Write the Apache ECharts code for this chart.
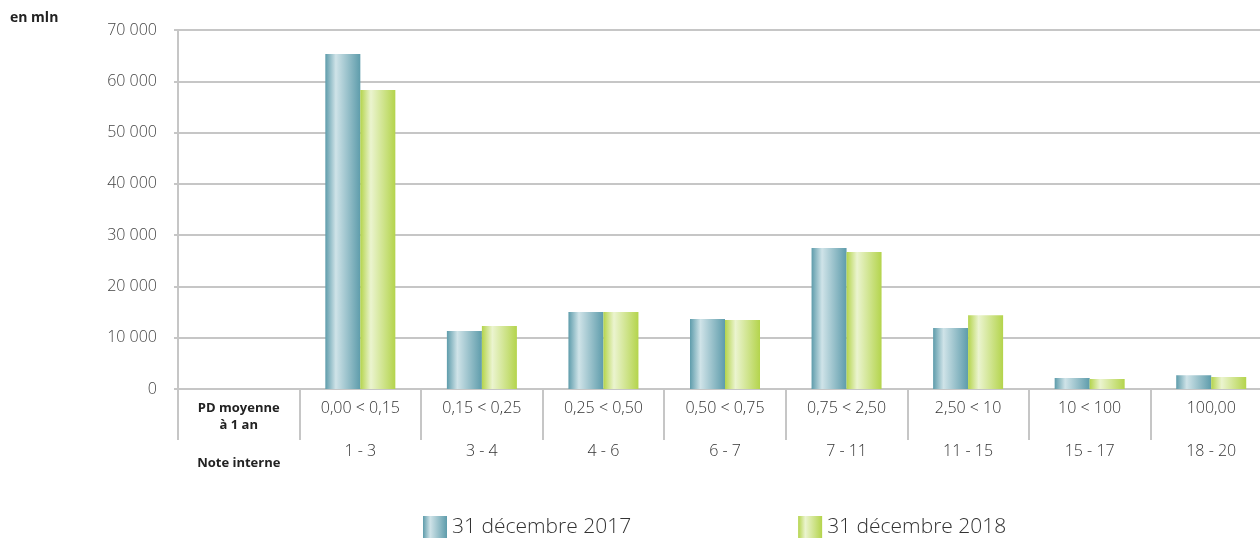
<!DOCTYPE html>
<html><head><meta charset="utf-8">
<script src="https://cdn.jsdelivr.net/npm/echarts@6/dist/echarts.min.js"></script>
<style>html,body{margin:0;padding:0;background:#fff}#c{width:1260px;height:540px}</style>
</head><body><div id="c"></div>
<script>
const pdLabels = ["", "0,00 < 0,15", "0,15 < 0,25", "0,25 < 0,50", "0,50 < 0,75", "0,75 < 2,50", "2,50 < 10", "10 < 100", "100,00"];
const noteLabels = ["", "1 - 3", "3 - 4", "4 - 6", "6 - 7", "7 - 11", "11 - 15", "15 - 17", "18 - 20"];
const firstColLines = ["PD moyenne", "à 1 an", "Note interne"];
const seriesNames = ["31 décembre 2017", "31 décembre 2018"];
const values2017 = [null, 65300, 11300, 15000, 13650, 27500, 11900, 2150, 2700];
const values2018 = [null, 58300, 12300, 15000, 13450, 26700, 14400, 1950, 2350];
const yUnit = "en mln";

const cats = pdLabels.map((p, i) => i);
const font = "'Open Sans','Noto Sans',sans-serif";

function grad(edge, light) {
  return new echarts.graphic.LinearGradient(0, 0, 1, 0, [
    {offset: 0, color: edge},
    {offset: 0.3, color: light},
    {offset: 1, color: edge}
  ]);
}
const blue = grad('#5e9cab', '#cfe3e8');
const green = grad('#b4d44c', '#ebf4cf');

const chart = echarts.init(document.getElementById('c'));
chart.setOption({
  animation: false,
  backgroundColor: '#fff',
  textStyle: {fontFamily: font},
  graphic: [{type: 'text', left: 10, top: 11, style: {text: yUnit, font: "bold 14px " + font, fill: '#222'}}],
  legend: {
    bottom: -3, left: 418, itemWidth: 24, itemHeight: 22, itemGap: 167, icon: 'rect',
    textStyle: {fontSize: 21, fontWeight: 300, color: '#333', fontFamily: font},
    data: seriesNames
  },
  grid: {left: 178, width: 1094, top: 30, bottom: 151, containLabel: false, outerBoundsMode: 'none'},
  xAxis: {
    type: 'category',
    data: cats,
    axisLine: {lineStyle: {color: '#c6c6c6', width: 2}},
    axisTick: {show: true, length: 51, interval: 0, lineStyle: {color: '#c6c6c6', width: 2}},
    axisLabel: {
      interval: 0, margin: 11,
      formatter: function (v, i) {
        i = +v;
        if (i === 0) return '{b|' + firstColLines[0] + '}\n{b|' + firstColLines[1] + '}\n{bn|' + firstColLines[2] + '}';
        return '{p|' + pdLabels[i] + '}\n{n|' + noteLabels[i] + '}';
      },
      rich: {
        b: {fontSize: 13, fontWeight: 'bold', color: '#222', lineHeight: 17, fontFamily: font},
        bn: {fontSize: 13, fontWeight: 'bold', color: '#222', lineHeight: 58, fontFamily: font},
        p: {fontSize: 16, fontWeight: 300, color: '#333', lineHeight: 17, fontFamily: font},
        n: {fontSize: 16, fontWeight: 300, color: '#333', lineHeight: 68, fontFamily: font}
      }
    }
  },
  yAxis: {
    type: 'value', min: 0, max: 70000, interval: 10000,
    axisLine: {show: true, lineStyle: {color: '#c6c6c6', width: 2}},
    axisTick: {show: true, length: 4, lineStyle: {color: '#c6c6c6', width: 2}},
    splitLine: {lineStyle: {color: '#c6c6c6', width: 2}},
    axisLabel: {
      margin: 21, fontSize: 16, fontWeight: 300, color: '#444', fontFamily: font,
      formatter: v => String(v).replace(/\B(?=(\d{3})+(?!\d))/g, ' ')
    }
  },
  series: [
    {name: seriesNames[0], type: 'bar', data: values2017, barWidth: 35, barGap: '0%', itemStyle: {color: blue}},
    {name: seriesNames[1], type: 'bar', data: values2018, barWidth: 35, barGap: '0%', itemStyle: {color: green}}
  ]
});
</script></body></html>
